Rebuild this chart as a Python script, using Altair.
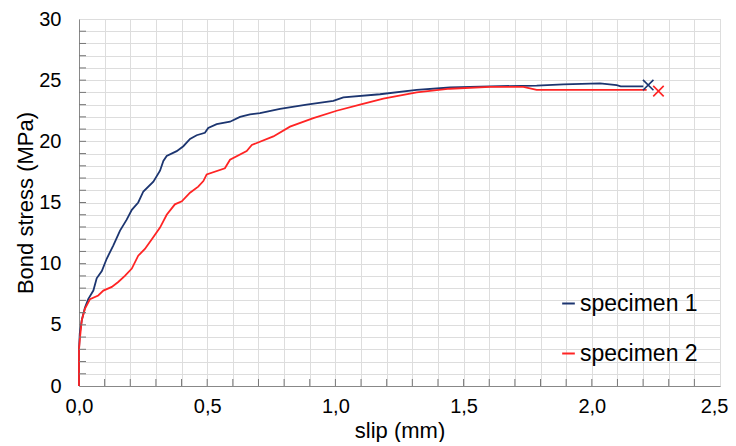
import altair as alt
import pandas as pd
import numpy as np

# specimen 1 (slip mm, bond stress MPa)
slip1 = [0.0, 0.0, 0.003, 0.011, 0.023, 0.036, 0.056, 0.069, 0.089, 0.108, 0.134, 0.16, 0.186,
         0.206, 0.231, 0.251, 0.29, 0.316, 0.329, 0.342, 0.381, 0.407, 0.433, 0.459, 0.491, 0.504,
         0.537, 0.589, 0.628, 0.667, 0.706, 0.784, 0.888, 0.992, 1.031, 1.174, 1.317, 1.447, 1.603,
         1.785, 1.889, 2.032, 2.097, 2.113, 2.201]
stress1 = [0.0, 3.0, 4.3, 5.4, 6.4, 7.1, 7.8, 8.8, 9.4, 10.4, 11.5, 12.7, 13.6,
           14.4, 15.0, 15.9, 16.7, 17.6, 18.4, 18.8, 19.2, 19.6, 20.2, 20.5, 20.7, 21.1,
           21.4, 21.6, 22.0, 22.2, 22.3, 22.65, 23.0, 23.3, 23.6, 23.85, 24.2, 24.4, 24.5,
           24.55, 24.66, 24.74, 24.6, 24.5, 24.5]

# specimen 2
slip2 = [0.0, 0.0, 0.004, 0.011, 0.023, 0.043, 0.075, 0.095, 0.128, 0.153, 0.179, 0.206, 0.231,
         0.257, 0.284, 0.316, 0.342, 0.374, 0.401, 0.433, 0.465, 0.485, 0.498, 0.569, 0.589,
         0.654, 0.674, 0.758, 0.823, 0.914, 1.005, 1.096, 1.187, 1.317, 1.447, 1.603, 1.733,
         1.785, 2.214]
stress2 = [0.0, 3.0, 4.0, 5.4, 6.3, 7.1, 7.4, 7.8, 8.1, 8.5, 9.0, 9.6, 10.65,
           11.2, 12.0, 12.95, 14.0, 14.85, 15.1, 15.8, 16.3, 16.75, 17.3, 17.8, 18.5,
           19.2, 19.7, 20.4, 21.2, 21.9, 22.5, 23.0, 23.5, 24.0, 24.3, 24.45, 24.45,
           24.2, 24.2]

# failure markers
end_names = ["specimen 1", "specimen 2"]
end_slip = [2.22, 2.26]
end_stress = [24.6, 24.1]

series = ["specimen 1", "specimen 2"]
colors = ["#1c3570", "#ff2424"]

x_grid = [round(v, 1) for v in np.arange(0, 2.501, 0.1)]
y_grid = list(range(0, 31))

W, H = 641, 367

rows = []
for i, (s, t) in enumerate(zip(slip1, stress1)):
    rows.append({"slip": s, "stress": t, "specimen": "specimen 1", "i": i})
for i, (s, t) in enumerate(zip(slip2, stress2)):
    rows.append({"slip": s, "stress": t, "specimen": "specimen 2", "i": i})
df = pd.DataFrame(rows)
ends = pd.DataFrame({"slip": end_slip, "stress": end_stress, "specimen": end_names})

xscale = alt.Scale(domain=[0, 2.5], nice=False, zero=False)
yscale = alt.Scale(domain=[0, 30], nice=False, zero=False)

xaxis = alt.Axis(
    values=x_grid, grid=True, ticks=False, title="slip (mm)",
    labelExpr="abs(datum.value*2 - round(datum.value*2)) < 0.001 ? replace(format(datum.value, '.1f'), '.', ',') : ''",
    labelAlign={"condition": {"test": "datum.value > 2.45", "value": "right"}, "value": "center"},
    labelOffset={"condition": {"test": "datum.value > 2.45", "value": 8}, "value": 0},
    labelPadding=10, labelFontSize=20, titleFontSize=22, titleFontWeight="normal",
    titleY=44, titleBaseline="middle", labelFlush=False, labelOverlap=False,
)
yaxis = alt.Axis(
    values=y_grid, grid=True, ticks=False, title="Bond stress (MPa)",
    labelExpr="datum.value % 5 == 0 ? datum.label : ''",
    labelPadding=18, labelFontSize=20, titleFontSize=22, titleFontWeight="normal",
    titleX=-54, titleY=H / 2, titleAngle=-90, titleAlign="center", titleBaseline="middle",
    labelOverlap=False, labelFlush=False,
)

lines = alt.Chart(df).mark_line(strokeWidth=1.8).encode(
    x=alt.X("slip:Q", scale=xscale, axis=xaxis),
    y=alt.Y("stress:Q", scale=yscale, axis=yaxis),
    color=alt.Color("specimen:N", scale=alt.Scale(domain=series, range=colors),
                    legend=alt.Legend(title=None, orient="none", legendX=478, legendY=273,
                                      symbolType="stroke", symbolSize=160, symbolStrokeWidth=2,
                                      labelFontSize=23, rowPadding=26, labelOffset=0,
                                      padding=0)),
    order="i:Q",
)

markers = alt.Chart(ends).mark_point(
    shape="M-1,-1L1,1M-1,1L1,-1", size=110, filled=False, strokeWidth=1.6, opacity=1
).encode(
    x=alt.X("slip:Q", scale=xscale, axis=xaxis),
    y=alt.Y("stress:Q", scale=yscale, axis=yaxis),
    stroke=alt.Stroke("specimen:N", scale=alt.Scale(domain=series, range=colors), legend=None),
)

xt = pd.DataFrame({"slip": x_grid[1:-1]})
xticks = alt.Chart(xt).mark_rule(color="#777", strokeWidth=1).encode(
    x=alt.X("slip:Q", scale=xscale, axis=xaxis), y=alt.value(H), y2=alt.value(H - 7)
)
yt = pd.DataFrame({"stress": y_grid[1:-1]})
yticks = alt.Chart(yt).mark_rule(color="#777", strokeWidth=1).encode(
    y=alt.Y("stress:Q", scale=yscale, axis=yaxis), x=alt.value(0), x2=alt.value(7)
)

chart = alt.layer(lines, xticks, yticks, markers).properties(
    width=W, height=H,
    autosize=alt.AutoSizeParams(type="none"),
    padding={"left": 71, "top": 11, "right": 8, "bottom": 56},
).configure_axis(
    gridColor="#ebebeb", gridWidth=1, domainColor="#666", domainWidth=1.5,
    labelFont="Liberation Sans", titleFont="Liberation Sans", labelColor="#000", titleColor="#000",
).configure_legend(
    labelFont="Liberation Sans", labelColor="#000",
).configure_view(
    stroke="#666", strokeWidth=1.5,
).configure(background="white")

chart.save("out.html", embed_options={"renderer": "svg", "actions": False})
